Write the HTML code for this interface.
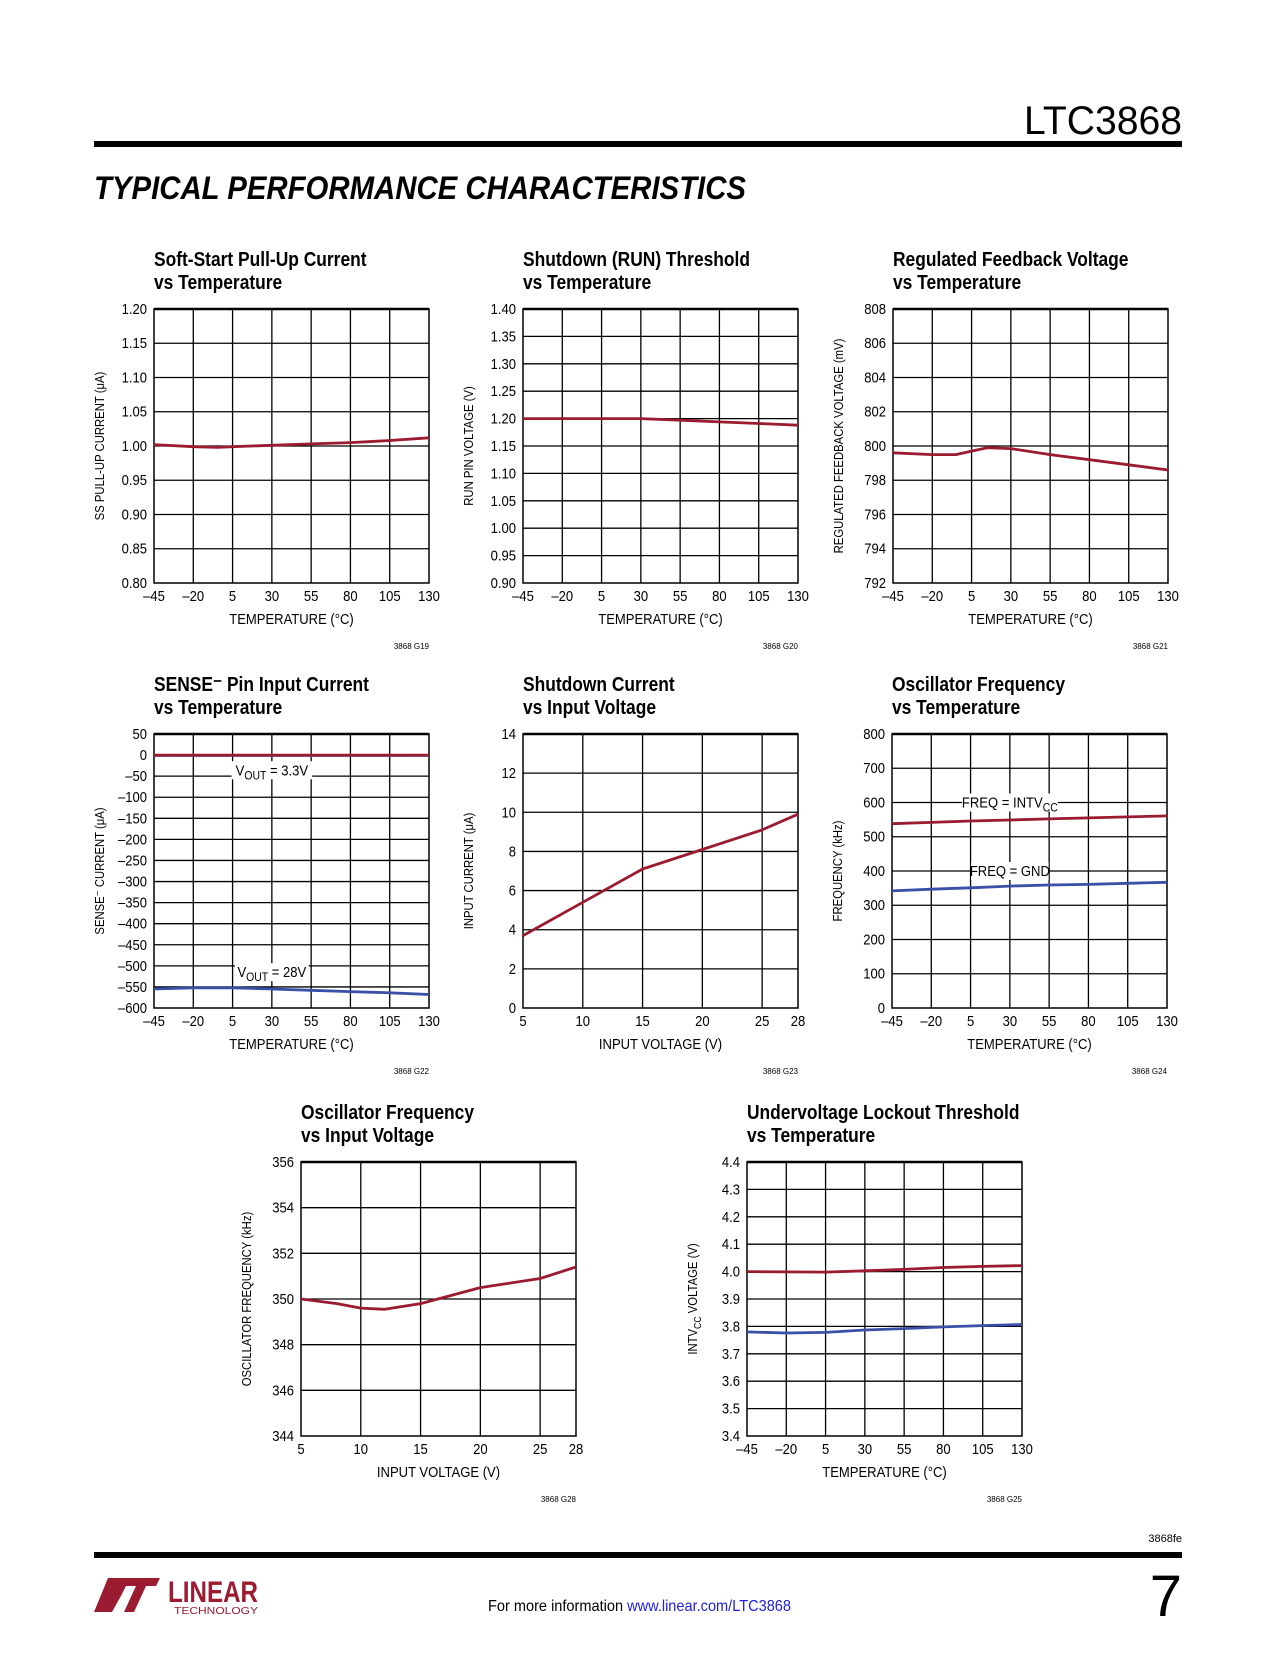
<!DOCTYPE html>
<html><head><meta charset="utf-8"><style>
html,body{margin:0;padding:0;background:#fff}
svg text{font-family:"Liberation Sans Narrow","Liberation Sans",sans-serif}
</style></head><body>
<svg id="page" xmlns="http://www.w3.org/2000/svg" width="1275" height="1650" viewBox="0 0 1275 1650">
<text x="1182" y="134" text-anchor="end" font-size="40" textLength="158" lengthAdjust="spacingAndGlyphs" style="font-family:'Liberation Sans',sans-serif">LTC3868</text>
<rect x="94" y="141" width="1088" height="6" fill="#000"/>
<text x="94" y="199" font-size="32" font-weight="bold" font-style="italic" textLength="652" lengthAdjust="spacingAndGlyphs" style="font-family:'Liberation Sans',sans-serif">TYPICAL PERFORMANCE CHARACTERISTICS</text>
<g id="charts"></g>
<text x="1182" y="1542" text-anchor="end" font-size="11">3868fe</text>
<rect x="94" y="1552" width="1088" height="6" fill="#000"/>
<g>
<polygon points="94,1612 108,1578 130,1578 122,1594 112,1612" fill="#9b1b30"/>
<polygon points="118,1578 160,1578 156,1586 146,1586 134,1612 124,1612 136,1586 114,1586" fill="#9b1b30"/>
<text x="168" y="1602" font-size="30" fill="#9b1b30" font-weight="bold" textLength="90" lengthAdjust="spacingAndGlyphs">LINEAR</text>
<text x="174" y="1614" font-size="10" fill="#9b1b30" textLength="84" lengthAdjust="spacingAndGlyphs">TECHNOLOGY</text>
</g>
<text x="488" y="1611" font-size="16" textLength="303" lengthAdjust="spacingAndGlyphs">For more information <tspan fill="#2020e0">www.linear.com/LTC3868</tspan></text>
<text x="1182" y="1616" text-anchor="end" font-size="58" style="font-family:'Liberation Sans',sans-serif">7</text>
</svg>
<script>
const tempTicks=[-45,-20,5,30,55,80,105,130];
const vinTicks=[5,10,15,20,25,28];
const c1_x=[-45,-20,-5,5,30,55,80,105,130];
const c1_y=[1.002,0.999,0.998,0.999,1.001,1.003,1.005,1.008,1.012];
const c2_x=[-45,-20,5,30,55,80,105,130];
const c2_y=[1.200,1.200,1.200,1.200,1.197,1.194,1.191,1.188];
const c3_x=[-45,-20,-5,5,15,30,55,80,105,130];
const c3_y=[799.6,799.5,799.5,799.7,799.9,799.85,799.5,799.2,798.9,798.6];
const c4_x=[-45,130];
const c4_y33=[-1,-1];
const c4_x28=[-45,-20,5,30,55,80,105,130];
const c4_y28=[-555,-552,-552,-555,-558,-561,-564,-568];
const c5_x=[5,10,15,20,25,28];
const c5_y=[3.7,5.4,7.1,8.1,9.1,9.9];
const c6_x=[-45,-20,5,30,55,80,105,130];
const c6_yintv=[538,542,546,549,552,555,558,561];
const c6_ygnd=[342,347,351,356,359,361,364,367];
const c7_x=[5,8,10,12,15,20,25,28];
const c7_y=[350.0,349.8,349.6,349.55,349.8,350.5,350.9,351.4];
const c8_x=[-45,-20,5,30,55,80,105,130];
const c8_yr=[4.000,3.999,3.998,4.003,4.008,4.015,4.019,4.022];
const c8_yb=[3.780,3.776,3.778,3.787,3.792,3.798,3.803,3.807];

const RED='#9b1b30',BLUE='#3a4fa6';
const NS='http://www.w3.org/2000/svg';
const root=document.getElementById('charts');
const SX=0.87;
function mk(tag,attrs,parent){const e=document.createElementNS(NS,tag);for(const k in attrs)e.setAttribute(k,attrs[k]);parent.appendChild(e);return e;}
function narrow(e,x){e.setAttribute('transform',`translate(${x} 0) scale(${SX} 1) translate(${-x} 0)`);}
function fmt(v,d){let s=v.toFixed(d);return s.replace('-','\u2013');}

const charts=[
 {id:'ss-current',x:154,y:309,t1:'Soft-Start Pull-Up Current',t2:'vs Temperature',xmin:-45,xmax:130,xt:tempTicks,ymin:0.8,ymax:1.2,ystep:0.05,ygrid:0.05,yd:2,xl:'TEMPERATURE (°C)',yl:'SS PULL-UP CURRENT (μA)',code:'3868 G19',
  series:[[c1_x,c1_y,RED]]},
 {id:'run-threshold',x:523,y:309,t1:'Shutdown (RUN) Threshold',t2:'vs Temperature',xmin:-45,xmax:130,xt:tempTicks,ymin:0.9,ymax:1.4,ystep:0.05,ygrid:0.05,yd:2,xl:'TEMPERATURE (°C)',yl:'RUN PIN VOLTAGE (V)',code:'3868 G20',
  series:[[c2_x,c2_y,RED]]},
 {id:'feedback-voltage',x:893,y:309,t1:'Regulated Feedback Voltage',t2:'vs Temperature',xmin:-45,xmax:130,xt:tempTicks,ymin:792,ymax:808,ystep:2,ygrid:2,yd:0,xl:'TEMPERATURE (°C)',yl:'REGULATED FEEDBACK VOLTAGE (mV)',code:'3868 G21',
  series:[[c3_x,c3_y,RED]]},
 {id:'sense-current',x:154,y:734,t1:'SENSE\u207B Pin Input Current',t2:'vs Temperature',xmin:-45,xmax:130,xt:tempTicks,ymin:-600,ymax:50,ystep:50,ygrid:50,yd:0,xl:'TEMPERATURE (°C)',yl:'SENSE\u207B CURRENT (μA)',code:'3868 G22',
  series:[[c4_x,c4_y33,BLUE],[c4_x,c4_y33.map(v=>v+1),RED],[c4_x28,c4_y28,BLUE]],
  labels:[[30,-36,'V','OUT',' = 3.3V'],[30,-515,'V','OUT',' = 28V']]},
 {id:'shutdown-current',x:523,y:734,t1:'Shutdown Current',t2:'vs Input Voltage',xmin:5,xmax:28,xt:vinTicks,ymin:0,ymax:14,ystep:2,ygrid:2,yd:0,xl:'INPUT VOLTAGE (V)',yl:'INPUT CURRENT (μA)',code:'3868 G23',
  series:[[c5_x,c5_y,RED]]},
 {id:'osc-freq-temp',x:892,y:734,t1:'Oscillator Frequency',t2:'vs Temperature',xmin:-45,xmax:130,xt:tempTicks,ymin:0,ymax:800,ystep:100,ygrid:100,yd:0,xl:'TEMPERATURE (°C)',yl:'FREQUENCY (kHz)',code:'3868 G24',
  series:[[c6_x,c6_yintv,RED],[c6_x,c6_ygnd,BLUE]],
  labels:[[30,600,'FREQ = INTV','CC',''],[30,400,'FREQ = GND','','']]},
 {id:'osc-freq-vin',x:301,y:1162,t1:'Oscillator Frequency',t2:'vs Input Voltage',xmin:5,xmax:28,xt:vinTicks,ymin:344,ymax:356,ystep:2,ygrid:2,yd:0,xl:'INPUT VOLTAGE (V)',yl:'OSCILLATOR FREQUENCY (kHz)',code:'3868 G28',
  series:[[c7_x,c7_y,RED]]},
 {id:'uvlo-threshold',x:747,y:1162,t1:'Undervoltage Lockout Threshold',t2:'vs Temperature',xmin:-45,xmax:130,xt:tempTicks,ymin:3.4,ymax:4.4,ystep:0.1,ygrid:0.1,yd:1,xl:'TEMPERATURE (°C)',yl:'INTV_CC VOLTAGE (V)',code:'3868 G25',
  series:[[c8_x,c8_yr,RED],[c8_x,c8_yb,BLUE]]}
];
const W=275,H=274;
charts.forEach(c=>{
 const g=mk('g',{},root);
 
 
 const sx=v=>c.x+(v-c.xmin)/(c.xmax-c.xmin)*W;
 const sy=v=>c.y+H-(v-c.ymin)/(c.ymax-c.ymin)*H;
 const t=mk('text',{x:c.x,y:c.y-43,'font-size':20,'font-weight':'bold'},g);
 t.textContent=c.t1;
 
 
 narrow(t,c.x);
 const t2=mk('text',{x:c.x,y:c.y-20,'font-size':20,'font-weight':'bold'},g);
 t2.textContent=c.t2;
 
 
 narrow(t2,c.x);
 const n=Math.round((c.ymax-c.ymin)/c.ygrid);
 for(let i=1;i<n;i++){const yy=sy(c.ymin+i*c.ygrid);const l=mk('line',{x1:c.x,x2:c.x+W,y1:yy,y2:yy,stroke:'#000','stroke-width':1.3},g);
  
  }
 c.xt.forEach((v,i)=>{const xx=sx(v);
  if(i>0&&i<c.xt.length-1){const l=mk('line',{x1:xx,x2:xx,y1:c.y,y2:c.y+H,stroke:'#000','stroke-width':1.3},g);
   
   }
  const tx=mk('text',{x:xx,y:c.y+H+18,'font-size':15,'text-anchor':'middle'},g);
  tx.textContent=fmt(v,0);
  
  
  narrow(tx,xx);});
 const ny=Math.round((c.ymax-c.ymin)/c.ystep);
 for(let i=0;i<=ny;i++){const v=c.ymin+i*c.ystep;const ty=mk('text',{x:c.x-7,y:sy(v)+5,'font-size':15,'text-anchor':'end'},g);
  ty.textContent=fmt(v,c.yd);
  
  
  narrow(ty,c.x-7);}
 const fr=mk('rect',{x:c.x,y:c.y,width:W,height:H,fill:'none',stroke:'#000','stroke-width':1.5},g);
 
 
 mk('line',{x1:c.x,x2:c.x+W,y1:c.y,y2:c.y,stroke:'#000','stroke-width':2.5},g);
 (c.labels||[]).forEach(L=>{
  const lx=sx(L[0]),ly=sy(L[1]);
  const tw=(L[2].length*8+L[3].length*6.5+L[4].length*8)*SX;
  mk('rect',{x:lx-tw/2-4,y:ly-9,width:tw+8,height:18,fill:'#fff'},g);
  const tl=mk('text',{x:lx,y:ly+5,'font-size':15,'text-anchor':'middle'},g);
  
  
  mk('tspan',{},tl).textContent=L[2];
  if(L[3])mk('tspan',{dy:4,'font-size':12},tl).textContent=L[3];
  if(L[4])mk('tspan',{dy:-4},tl).textContent=L[4];
  narrow(tl,lx);
 });
 c.series.forEach(s=>{
  const d=s[0].map((v,i)=>(i?'L':'M')+sx(v).toFixed(1)+','+sy(s[1][i]).toFixed(1)).join(' ');
  const p=mk('path',{d:d,fill:'none',stroke:s[2],'stroke-width':2.8,'stroke-linejoin':'round'},g);
  
  
 });
 const xl=mk('text',{x:c.x+W/2,y:c.y+H+41,'font-size':15,'text-anchor':'middle'},g);
 xl.textContent=c.xl;
 
 
 narrow(xl,c.x+W/2);
 const ylx=c.x-50,yly=c.y+H/2;
 const yl=mk('text',{x:ylx,y:yly,'font-size':13,'text-anchor':'middle',transform:`rotate(-90 ${ylx} ${yly}) translate(${ylx} 0) scale(${SX} 1) translate(${-ylx} 0)`},g);
 
 
 if(c.yl.includes('_')){const p=c.yl.split('_');const sub=p[1].split(' ')[0];
  mk('tspan',{},yl).textContent=p[0];mk('tspan',{dy:4,'font-size':10},yl).textContent=sub;mk('tspan',{dy:-4},yl).textContent=p[1].slice(sub.length);}
 else yl.textContent=c.yl;
 const cd=mk('text',{x:c.x+W,y:c.y+H+66,'font-size':8,'text-anchor':'end'},g);
 cd.textContent=c.code;
 
 
});
</script>
</body></html>
